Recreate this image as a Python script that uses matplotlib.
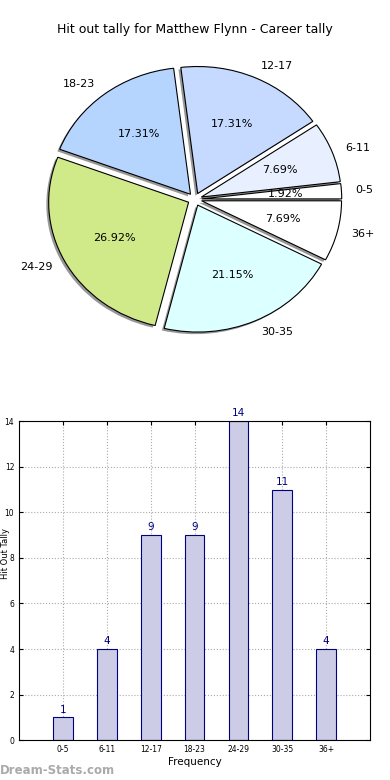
import numpy as np
import matplotlib
matplotlib.use("Agg")
import matplotlib.pyplot as plt

# data
bins = ['0-5', '6-11', '12-17', '18-23', '24-29', '30-35', '36+']
counts = [1, 4, 9, 9, 14, 11, 4]
pie_colors = ['#ffffff', '#e8f0ff', '#c6d9ff', '#b5d5ff', '#d0ea8a', '#dcffff', '#ffffff']

fig = plt.figure(figsize=(3.9, 7.8), dpi=100)
fig.text(0.5, 0.962, 'Hit out tally for Matthew Flynn - Career tally',
         ha='center', va='center', fontsize=9)

# pie (old-style elliptic pie)
ax1 = fig.add_axes([0.051, 0.541, 0.897, 0.407])
ax1.pie(counts, labels=bins, colors=pie_colors, explode=[0.05] * len(counts),
        autopct='%1.2f%%', startangle=0,
        shadow={'ox': -0.012, 'oy': -0.012, 'facecolor': '#8c8c8c',
                'edgecolor': 'none', 'alpha': 0.9},
        wedgeprops=dict(edgecolor='black', linewidth=0.8),
        textprops=dict(fontsize=8))
ax1.set_aspect('auto')
ax1.set_xlim(-1.25, 1.25)
ax1.set_ylim(-1.25, 1.25)

# bar chart
ax2 = fig.add_axes([0.049, 0.051, 0.9, 0.409])
x = np.arange(len(bins))
ax2.bar(x, counts, width=0.45, color='#ccccE6', edgecolor='#000080', linewidth=0.8, zorder=2)
for xi, c in zip(x, counts):
    ax2.text(xi, c + 0.12, str(c), ha='center', va='bottom', fontsize=7.5, color='#000080')
ax2.set_xlim(-1, 7)
ax2.set_ylim(0, 14)
ax2.set_xticks(x)
ax2.set_xticklabels(bins)
ax2.set_yticks(range(0, 15, 2))
ax2.tick_params(labelsize=5.5, direction='in', top=True, right=True, length=3)
ax2.grid(True, linestyle=':', color='#aaaaaa', linewidth=0.8, zorder=0)
ax2.set_axisbelow(True)
ax2.set_xlabel('Frequency', fontsize=7.5, labelpad=2)
fig.text(0.002, 0.29, 'Hit Out Tally', rotation=90, ha='left', va='center', fontsize=6)

fig.text(0.0, 0.012, 'Dream-Stats.com', ha='left', va='center', fontsize=8.5,
         color='#aaaaaa', fontweight='bold')

fig.savefig('out.png', dpi=100)
